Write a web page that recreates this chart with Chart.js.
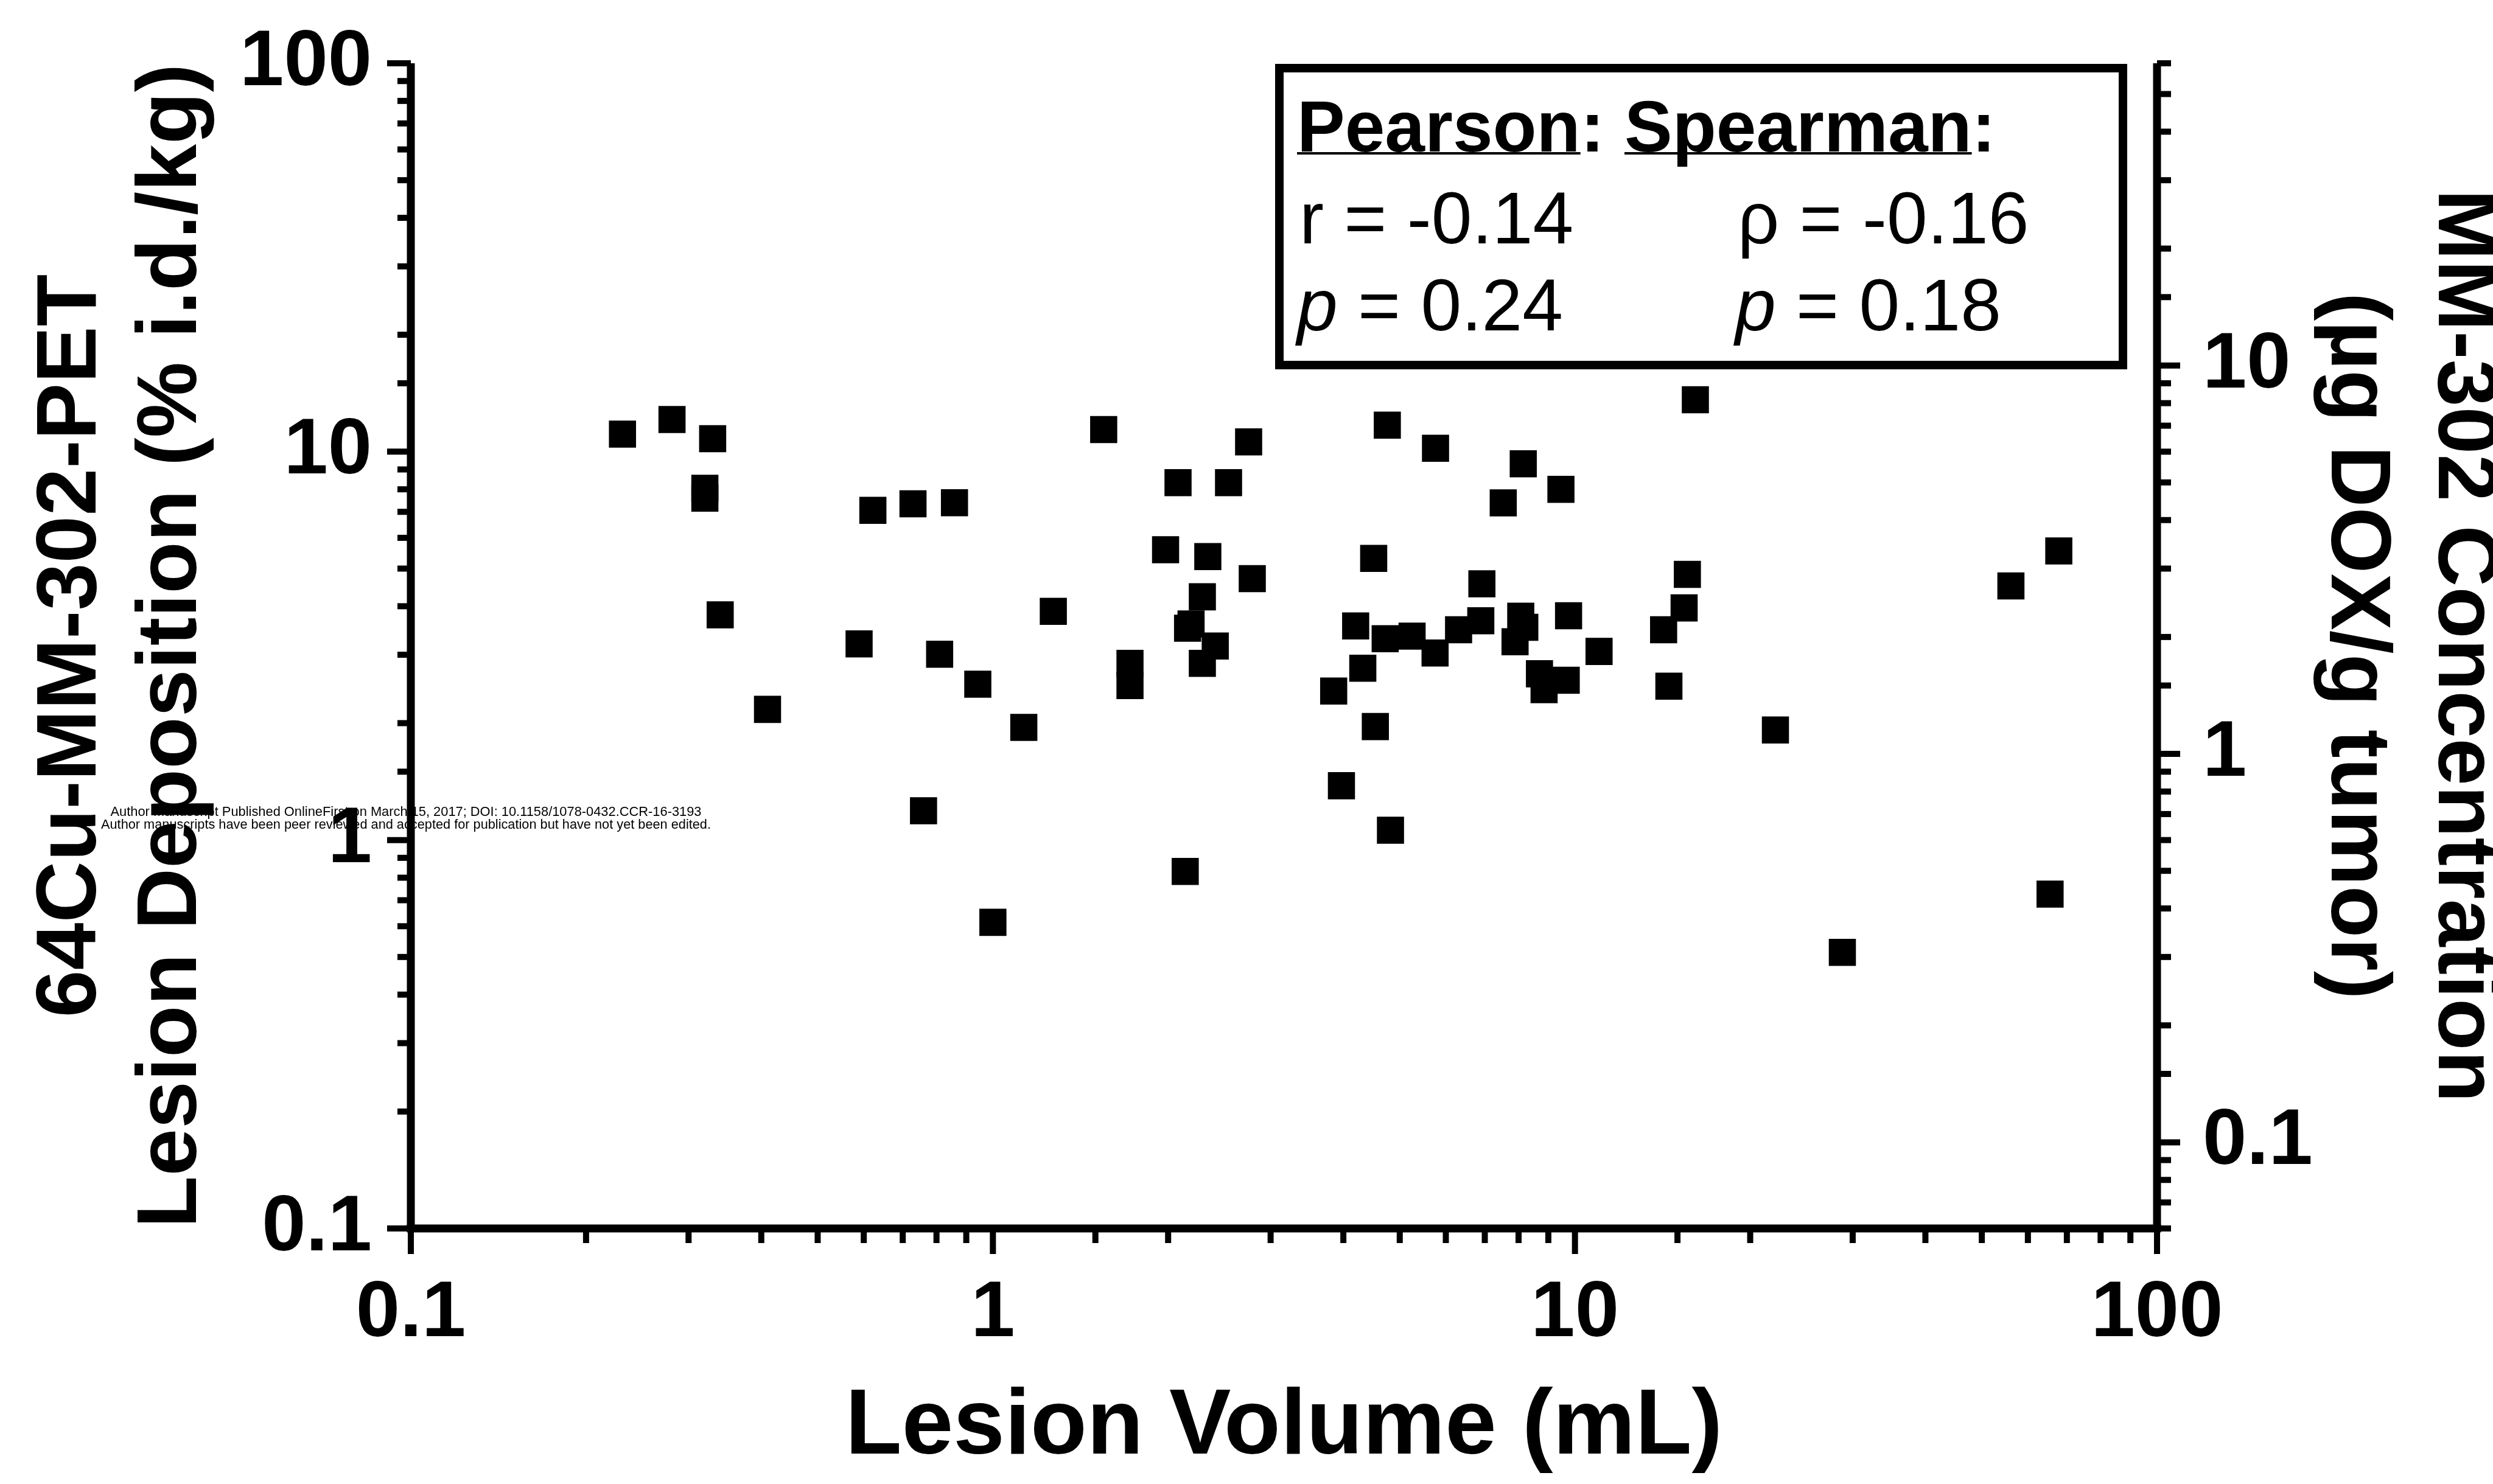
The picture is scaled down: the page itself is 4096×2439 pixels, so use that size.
<!DOCTYPE html>
<html>
<head>
<meta charset="utf-8">
<script src="https://cdn.jsdelivr.net/npm/chart.js@4.4.1/dist/chart.umd.min.js"></script>
<style>
    html, body { margin: 0; padding: 0; background: #fff; overflow: hidden; }
    canvas { display: block; }
</style>
</head>
<body>
<canvas id="scatterChart" width="4096" height="2439"></canvas>
<script>
// Lesion volume (mL) for each lesion
const lesionVolume = [
    0.231, 0.281, 0.330, 0.320, 0.320, 0.340, 0.410, 0.589, 0.622, 0.729,
    0.760, 0.810, 0.859, 0.942, 1.00, 1.13, 1.27, 1.55, 1.72, 1.72,
    1.98, 2.08, 2.14, 2.19, 2.16, 2.29, 2.29, 2.34, 2.41, 2.54, 2.75, 2.79,
    3.85, 3.97, 4.20, 4.32, 4.51, 4.54, 4.72, 4.76, 4.82, 5.25,
    5.75, 5.76, 6.31, 6.89, 6.92, 7.53, 7.89, 8.07, 8.15, 8.20,
    8.69, 8.85, 9.46, 9.66, 9.75, 11.0,
    14.2, 14.5, 15.4, 15.6, 16.1, 22.1, 28.8, 56.1, 65.5, 67.8
];

// 64Cu-MM-302 PET lesion deposition (% i.d./kg), same order as above
const lesionDeposition = [
    11.1, 12.1, 10.8, 8.05, 7.59, 3.80, 2.17, 3.20, 7.06, 7.34,
    1.19, 3.01, 7.39, 2.52, 0.614, 1.95, 3.88, 11.4, 2.85, 2.50,
    5.59, 8.32, 0.830, 3.60, 3.51, 4.23, 2.85, 5.37, 3.16, 8.32, 10.6, 4.71,
    2.42, 1.38, 3.56, 2.77, 5.31, 1.96, 3.30, 11.7, 1.06, 3.35,
    3.03, 10.2, 3.48, 3.67, 4.57, 7.38, 3.24, 3.77, 9.31, 3.53,
    2.68, 2.44, 8.00, 2.58, 3.78, 3.06,
    3.48, 2.49, 3.96, 4.83, 13.6, 1.92, 0.514, 4.51, 0.726, 5.55
];

// Axis ranges (right axis is the MM-302 concentration scale)
const xRange = [0.1, 100];
const yRange = [0.1, 100];
const y2Range = [0.06, 60];

// Correlation box text
const statHeaders = ["Pearson", "Spearman"];
const statCoefSymbols = ["r", "\u03C1"];
const statCoefs = ["-0.14", "-0.16"];
const statPValues = ["0.24", "0.18"];

const watermarkLines = [
    "Author Manuscript Published OnlineFirst on March 15, 2017; DOI: 10.1158/1078-0432.CCR-16-3193",
    "Author manuscripts have been peer reviewed and accepted for publication but have not yet been edited."
];

const FONT = "'Liberation Sans', Arial, Helvetica, sans-serif";
Chart.defaults.font.family = FONT;
Chart.defaults.color = "#000";

// true for 0.1, 1, 10, 100
function isDecade(v) {
    const l = Math.log10(v);
    return Math.abs(l - Math.round(l)) < 1e-6;
}

function decadeLabel(value) {
    if (!isDecade(value)) return "";
    return value >= 1 ? value.toFixed(0) : value.toFixed(1);
}

function drawLine(ctx, x1, y1, x2, y2) {
    ctx.beginPath();
    ctx.moveTo(x1, y1);
    ctx.lineTo(x2, y2);
    ctx.stroke();
}

// White background + watermark underneath everything
const backgroundPlugin = {
    id: "backgroundPlugin",
    beforeDraw(chart) {
        const ctx = chart.ctx;
        ctx.save();
        ctx.fillStyle = "#fff";
        ctx.fillRect(0, 0, chart.width, chart.height);
        ctx.fillStyle = "#000";
        ctx.font = `22px ${FONT}`;
        ctx.textAlign = "center";
        ctx.textBaseline = "middle";
        ctx.fillText(watermarkLines[0], 667, 1335, 971);
        ctx.fillText(watermarkLines[1], 667, 1356, 1002);
        ctx.restore();
    }
};

// Axis lines with major / minor tick marks, taken from the chart's own scales
const axesPlugin = {
    id: "axesPlugin",
    afterDraw(chart) {
        const { ctx, chartArea: a, scales } = chart;
        const axisW = 13;
        ctx.save();
        ctx.strokeStyle = "#000";
        ctx.lineCap = "butt";

        // Axis lines
        ctx.lineWidth = axisW;
        drawLine(ctx, a.left - axisW / 2, a.bottom, a.right + axisW / 2, a.bottom);
        drawLine(ctx, a.left, a.top, a.left, a.bottom);
        drawLine(ctx, a.right, a.top, a.right, a.bottom);

        ctx.lineWidth = 10;
        // Bottom axis ticks (downward)
        scales.x.ticks.forEach(t => {
            const px = scales.x.getPixelForValue(t.value);
            const len = isDecade(t.value) ? 42 : 24;
            drawLine(ctx, px, a.bottom, px, a.bottom + len);
        });
        // Left axis ticks (leftward)
        scales.y.ticks.forEach(t => {
            const py = scales.y.getPixelForValue(t.value);
            const len = isDecade(t.value) ? 39 : 22;
            drawLine(ctx, a.left, py, a.left - len, py);
        });
        // Right axis ticks (rightward)
        scales.y2.ticks.forEach(t => {
            const py = scales.y2.getPixelForValue(t.value);
            const len = isDecade(t.value) ? 38 : 23;
            drawLine(ctx, a.right, py, a.right + len, py);
        });
        ctx.restore();
    }
};

// Pearson / Spearman box in the upper right
const statsBoxPlugin = {
    id: "statsBoxPlugin",
    afterDraw(chart) {
        const ctx = chart.ctx;
        ctx.save();
        ctx.strokeStyle = "#000";
        ctx.lineWidth = 14;
        ctx.strokeRect(2102, 112, 3488 - 2102, 600 - 112);

        ctx.fillStyle = "#000";
        ctx.textAlign = "left";
        ctx.textBaseline = "alphabetic";
        const colX = [2131, 2851];

        // Headers, underlined (colon left out of the underline)
        ctx.font = `bold 118px ${FONT}`;
        const headX = [2131, 2669];
        statHeaders.forEach((h, i) => {
            const w = ctx.measureText(h).width;
            ctx.fillText(h + ":", headX[i], 249);
            ctx.fillRect(headX[i], 250, w, 4);
        });

        // Coefficient row
        ctx.font = `120px ${FONT}`;
        statCoefSymbols.forEach((s, i) => {
            ctx.fillText(`${s} = ${statCoefs[i]}`, colX[i] + 4, 400);
        });

        // p-value row, italic p
        statPValues.forEach((p, i) => {
            ctx.font = `italic 120px ${FONT}`;
            ctx.fillText("p", colX[i], 543);
            const w = ctx.measureText("p").width;
            ctx.font = `120px ${FONT}`;
            ctx.fillText(` = ${p}`, colX[i] + w, 543);
        });
        ctx.restore();
    }
};

const tickFont = { size: 130, weight: "bold" };

const points = lesionVolume.map((v, i) => ({ x: v, y: lesionDeposition[i] }));

// Grid lines are hidden; tickLength only sets the gap between axis and labels
new Chart(document.getElementById("scatterChart"), {
    type: "scatter",
    data: {
        datasets: [{
            data: points,
            pointStyle: "rect",
            pointRadius: 31.5,
            pointHoverRadius: 31.5,
            backgroundColor: "#000",
            borderWidth: 0
        }]
    },
    options: {
        responsive: false,
        devicePixelRatio: 1,
        animation: false,
        layout: { padding: { top: 104, left: 0, right: 0, bottom: 0 } },
        plugins: {
            legend: { display: false },
            tooltip: { enabled: false }
        },
        events: [],
        scales: {
            x: {
                type: "logarithmic",
                position: "bottom",
                min: xRange[0],
                max: xRange[1],
                grid: { display: false, drawTicks: true, tickLength: 63 },
                border: { display: false },
                ticks: {
                    autoSkip: false,
                    maxRotation: 0,
                    font: tickFont,
                    padding: 0,
                    callback: decadeLabel
                },
                title: {
                    display: true,
                    text: "Lesion Volume (mL)",
                    font: { size: 152, weight: "bold", lineHeight: 1.2 },
                    padding: { top: 0, bottom: 1 }
                },
                afterFit: scale => { scale.height = 420; }
            },
            y: {
                type: "logarithmic",
                position: "left",
                min: yRange[0],
                max: yRange[1],
                grid: { display: false, drawTicks: true, tickLength: 64 },
                border: { display: false },
                ticks: {
                    autoSkip: false,
                    font: tickFont,
                    padding: 0,
                    callback: decadeLabel
                },
                title: {
                    display: true,
                    text: ["64Cu-MM-302-PET", "Lesion Deposition (% i.d./kg)"],
                    font: { size: 140, weight: "bold", lineHeight: 1.18 },
                    padding: { top: 36, bottom: 0 }
                },
                afterFit: scale => { scale.width = 675; }
            },
            y2: {
                type: "logarithmic",
                position: "right",
                min: y2Range[0],
                max: y2Range[1],
                grid: { display: false, drawTicks: true, tickLength: 75 },
                border: { display: false },
                ticks: {
                    autoSkip: false,
                    font: tickFont,
                    padding: 0,
                    callback: decadeLabel
                },
                title: {
                    display: true,
                    text: ["MM-302 Concentration", "(\u00B5g DOX/g tumor)"],
                    font: { size: 140, weight: "bold", lineHeight: 1.26 },
                    padding: { top: -38, bottom: 0 }
                },
                afterFit: scale => { scale.width = 552; }
            }
        }
    },
    plugins: [backgroundPlugin, axesPlugin, statsBoxPlugin]
});
</script>
</body>
</html>
